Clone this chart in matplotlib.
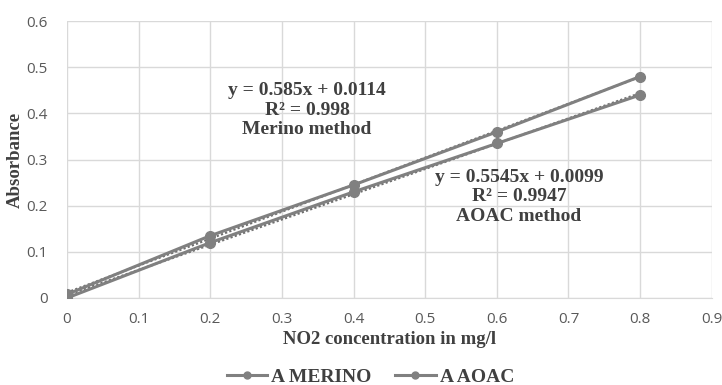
import numpy as np
import matplotlib
matplotlib.use('Agg')
import matplotlib.pyplot as plt
from matplotlib.lines import Line2D

# data
conc = [0, 0.2, 0.4, 0.6, 0.8]
merino = [0.008, 0.135, 0.245, 0.36, 0.48]
aoac = [0.0, 0.12, 0.23, 0.335, 0.44]

line_col = '#808080'
text_col = '#404040'
tick_col = '#595959'
grid_col = '#d9d9d9'
serif = 'Liberation Serif'

fig = plt.figure(figsize=(7.22, 3.85), dpi=100)
ax = fig.add_axes([0.0928, 0.226, 0.893, 0.719])

ax.plot(conc, merino, color=line_col, lw=2.2, marker='o', ms=7, zorder=3)
ax.plot(conc, aoac, color=line_col, lw=2.2, marker='o', ms=7, zorder=3)

# linear trendlines (least squares fit of each series)
xs = np.array([0, 0.8])
for ys in (merino, aoac):
    k, b = np.polyfit(conc, ys, 1)
    ax.plot(xs, k * xs + b, color='#707070', lw=1.6, ls=(0, (1, 1)), zorder=2)

ax.set_xlim(0, 0.9)
ax.set_ylim(0, 0.6)
ax.set_xticks(np.arange(0, 0.91, 0.1))
ax.set_yticks(np.arange(0, 0.61, 0.1))
ax.set_xticklabels(['0', '0.1', '0.2', '0.3', '0.4', '0.5', '0.6', '0.7', '0.8', '0.9'])
ax.set_yticklabels(['0', '0.1', '0.2', '0.3', '0.4', '0.5', '0.6'])
ax.tick_params(length=0, labelsize=11, colors=tick_col)
ax.tick_params(axis='x', pad=10)
ax.tick_params(axis='y', pad=14)
for lab in ax.get_xticklabels() + ax.get_yticklabels():
    lab.set_family('Open Sans')
ax.grid(True, color=grid_col, lw=1)
ax.set_axisbelow(True)
for s in ['top', 'right', 'left']:
    ax.spines[s].set_visible(False)
ax.spines['bottom'].set_color(grid_col)

ax.set_xlabel('NO2 concentration in mg/l', family=serif, fontweight='bold',
              fontsize=13.5, color=text_col, labelpad=3)
ax.set_ylabel('Absorbance', family=serif, fontweight='bold',
              fontsize=13.5, color=text_col, labelpad=2)

ax.text(0.335, 0.407, 'y = 0.585x + 0.0114\nR² = 0.998\nMerino method', ha='center', va='center',
        family=serif, fontweight='bold', fontsize=14, color=text_col, linespacing=1.2)
ax.text(0.631, 0.219, 'y = 0.5545x + 0.0099\nR² = 0.9947\nAOAC method', ha='center', va='center',
        family=serif, fontweight='bold', fontsize=14, color=text_col, linespacing=1.2)

handles = [Line2D([], [], color=line_col, lw=2.2, marker='o', ms=5),
           Line2D([], [], color=line_col, lw=2.2, marker='o', ms=5)]
leg = fig.legend(handles, ['A MERINO', 'A AOAC'], loc='center', bbox_to_anchor=(0.513, 0.02), ncol=2,
                 frameon=False, prop={'family': serif, 'weight': 'bold', 'size': 14},
                 handlelength=2.1, columnspacing=1.2, handletextpad=0.2, borderaxespad=0)
for t in leg.get_texts():
    t.set_color(text_col)

fig.savefig('out.png', dpi=100)
